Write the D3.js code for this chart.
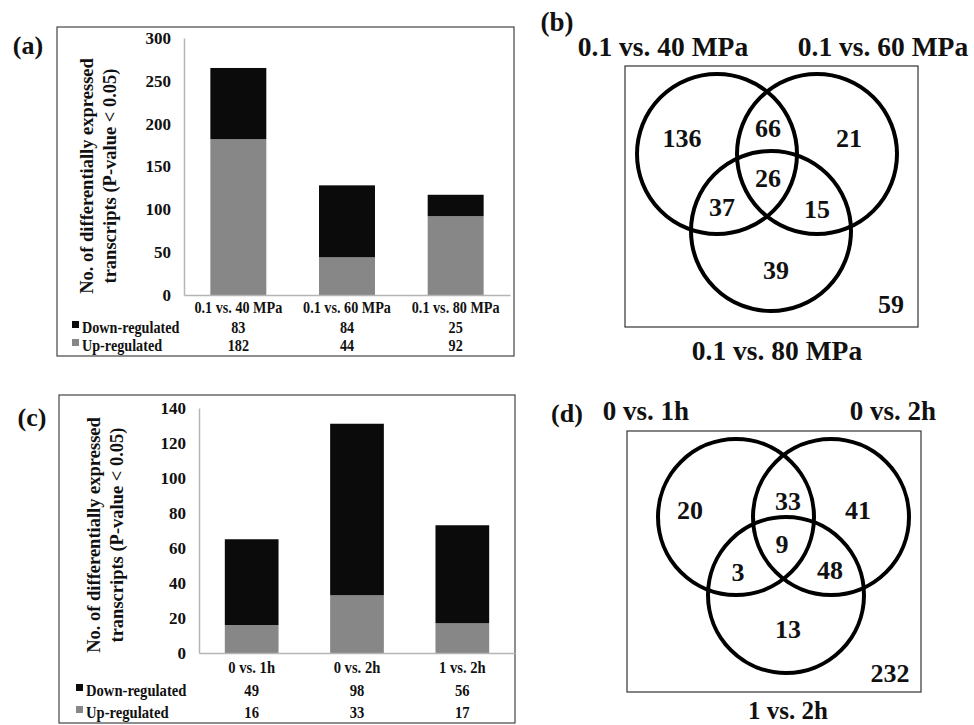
<!DOCTYPE html>
<html><head><meta charset="utf-8">
<script src="https://cdn.jsdelivr.net/npm/d3@7"></script>
<style>
html,body{margin:0;padding:0;background:#fff;}
svg text{font-family:"Liberation Serif","Times New Roman",serif;font-weight:bold;fill:#111;}
</style></head>
<body><svg id="chart" width="974" height="725"></svg>
<script>
// ---------- data ----------
const pressureCategories = ["0.1 vs. 40 MPa", "0.1 vs. 60 MPa", "0.1 vs. 80 MPa"];
const pressureDown = [83, 84, 25];
const pressureUp = [182, 44, 92];
const pressureTicks = [0, 50, 100, 150, 200, 250, 300];

const timeCategories = ["0 vs. 1h", "0 vs. 2h", "1 vs. 2h"];
const timeDown = [49, 98, 56];
const timeUp = [16, 33, 17];
const timeTicks = [0, 20, 40, 60, 80, 100, 120, 140];

const seriesNames = ["Down-regulated", "Up-regulated"];
const yTitleLines = ["No. of differentially expressed", "transcripts (P-value < 0.05)"];

// Venn regions: [A only, B only, C only, AB, AC, BC, ABC, outside]
const pressureSets = ["0.1 vs. 40 MPa", "0.1 vs. 60 MPa", "0.1 vs. 80 MPa"];
const pressureVenn = [136, 21, 39, 66, 37, 15, 26, 59];
const timeSets = ["0 vs. 1h", "0 vs. 2h", "1 vs. 2h"];
const timeVenn = [20, 41, 13, 33, 3, 48, 9, 232];

const svg = d3.select("#chart");
const colors = {down: "#0b0b0b", up: "#878787"};
const SX = 0.86; // horizontal squeeze of bar-panel text

function squeezed(sel, xf, yf, size, anchor) {
  sel.attr("x", 0).attr("y", 0)
    .attr("transform", (d, i) => `translate(${typeof xf === "function" ? xf(d, i) : xf},${typeof yf === "function" ? yf(d, i) : yf}) scale(${SX},1)`)
    .attr("text-anchor", anchor).attr("dominant-baseline", "central")
    .style("font-size", size + "px");
}

function barPanel(o) {
  const g = svg.append("g");
  g.append("rect").attr("x", o.frame[0]).attr("y", o.frame[1])
    .attr("width", o.frame[2] - o.frame[0]).attr("height", o.frame[3] - o.frame[1])
    .attr("fill", "none").attr("stroke", "#444").attr("stroke-width", 1.2);
  g.append("text").attr("x", o.letterPos[0]).attr("y", o.letterPos[1])
    .attr("text-anchor", "middle").attr("dominant-baseline", "central")
    .style("font-size", "26px").text(o.letter);

  const rows = o.cats.map((c, i) => ({cat: c, up: o.up[i], down: o.down[i]}));
  const x = d3.scaleBand().domain(o.cats).range([o.x0, o.x1]).paddingInner(o.pad).paddingOuter(o.pad / 2);
  const y = d3.scaleLinear().domain([0, o.ymax]).range([o.y0, o.y1]);
  const stack = d3.stack().keys(["up", "down"])(rows);

  g.selectAll("g.layer").data(stack).join("g").attr("class", "layer")
    .attr("fill", d => colors[d.key])
    .selectAll("rect").data(d => d).join("rect")
    .attr("x", d => x(d.data.cat)).attr("width", x.bandwidth())
    .attr("y", d => y(d[1])).attr("height", d => y(d[0]) - y(d[1]));

  const ya = g.append("g").attr("transform", `translate(${o.x0},0)`)
    .call(d3.axisLeft(y).tickValues(o.ticks).tickSize(0).tickPadding(o.tickPad));
  ya.select(".domain").attr("stroke", "#b5b5b5").attr("stroke-width", 1.5);
  ya.selectAll("text").style("font-size", "17px").style("font-family", "Liberation Serif").style("font-weight", "bold").attr("fill", "#111");
  const xa = g.append("g").attr("transform", `translate(0,${o.y0})`)
    .call(d3.axisBottom(x).tickSize(0).tickPadding(0));
  xa.select(".domain").attr("stroke", "#b5b5b5").attr("stroke-width", 1.5);
  xa.selectAll("text").remove();

  const cx = c => x(c) + x.bandwidth() / 2;
  squeezed(g.selectAll("text.cat").data(o.cats).join("text").attr("class", "cat").text(d => d),
    d => cx(d), o.rowY[0], o.fs, "middle");
  [["down", o.down], ["up", o.up]].forEach(([k, vals], r) => {
    squeezed(g.selectAll("text.v" + k).data(vals).join("text").attr("class", "v" + k).text(d => d),
      (d, i) => cx(o.cats[i]), o.rowY[r + 1], o.fs, "middle");
    g.append("rect").attr("x", o.legX).attr("y", o.rowY[r + 1] - 6).attr("width", 7).attr("height", 7)
      .attr("fill", colors[k]);
    squeezed(g.append("text").text(seriesNames[r]), o.legX + 10, o.rowY[r + 1], o.fs, "start");
  });

  const t = g.append("text").attr("transform", `translate(${o.titleX},${o.titleY}) rotate(-90)`)
    .attr("text-anchor", "middle").style("font-size", "18.5px");
  yTitleLines.forEach((l, i) => t.append("tspan").attr("x", 0).attr("dy", i === 0 ? 0 : 23).text(l));
}

barPanel({
  cats: pressureCategories, down: pressureDown, up: pressureUp, ticks: pressureTicks, ymax: 300,
  frame: [57, 27, 514, 356], letter: "(a)", letterPos: [28, 45],
  x0: 184, x1: 510, y0: 295, y1: 38, pad: 0.485, tickPad: 13, fs: 16.5,
  rowY: [307, 327, 345], legX: 72, titleX: 93, titleY: 176
});

barPanel({
  cats: timeCategories, down: timeDown, up: timeUp, ticks: timeTicks, ymax: 140,
  frame: [59, 395, 515, 723], letter: "(c)", letterPos: [32, 417],
  x0: 199, x1: 515, y0: 653, y1: 408, pad: 0.49, tickPad: 13, fs: 17,
  rowY: [667, 690, 712], legX: 76, titleX: 100, titleY: 535
});

function vennPanel(o) {
  const g = svg.append("g");
  g.append("rect").attr("x", o.box[0]).attr("y", o.box[1])
    .attr("width", o.box[2] - o.box[0]).attr("height", o.box[3] - o.box[1])
    .attr("fill", "none").attr("stroke", "#333").attr("stroke-width", 1.2);
  g.append("text").attr("x", o.letterPos[0]).attr("y", o.letterPos[1])
    .attr("text-anchor", "middle").attr("dominant-baseline", "central")
    .style("font-size", o.letterSize + "px").text(o.letter);
  g.selectAll("circle").data(o.circles).join("circle")
    .attr("cx", d => d[0]).attr("cy", d => d[1]).attr("r", o.r)
    .attr("fill", "none").attr("stroke", "#000").attr("stroke-width", 4);
  g.selectAll("text.set").data(o.sets).join("text").attr("class", "set")
    .attr("x", (d, i) => o.setPos[i][0]).attr("y", (d, i) => o.setPos[i][1])
    .attr("text-anchor", "middle").attr("dominant-baseline", "central")
    .style("font-size", (d, i) => o.setSize[i] + "px").text(d => d);
  g.selectAll("text.num").data(o.values).join("text").attr("class", "num")
    .attr("x", (d, i) => o.numPos[i][0]).attr("y", (d, i) => o.numPos[i][1])
    .attr("text-anchor", "middle").attr("dominant-baseline", "central")
    .style("font-size", o.numSize + "px").text(d => d);
}

vennPanel({
  sets: pressureSets, values: pressureVenn, letter: "(b)", letterPos: [557, 22], letterSize: 27,
  box: [625, 66, 918, 327], r: 80,
  circles: [[717, 154], [817, 154], [771, 231]],
  setPos: [[663, 46], [883, 46], [777, 350]], setSize: [27.5, 27.5, 27.5],
  numPos: [[682, 138], [849, 138], [776, 270], [768, 128], [722, 207], [817, 209], [768, 178], [891, 304]],
  numSize: 26
});

vennPanel({
  sets: timeSets, values: timeVenn, letter: "(d)", letterPos: [567, 413], letterSize: 26,
  box: [627, 431, 921, 692], r: 78,
  circles: [[736, 517], [831, 517], [786, 595]],
  setPos: [[646, 411], [893, 411], [788, 710]], setSize: [27, 27, 25],
  numPos: [[690, 510], [858, 510], [788, 629], [788, 501], [738, 572], [830, 570], [782, 544], [890, 673]],
  numSize: 26
});
</script></body></html>
